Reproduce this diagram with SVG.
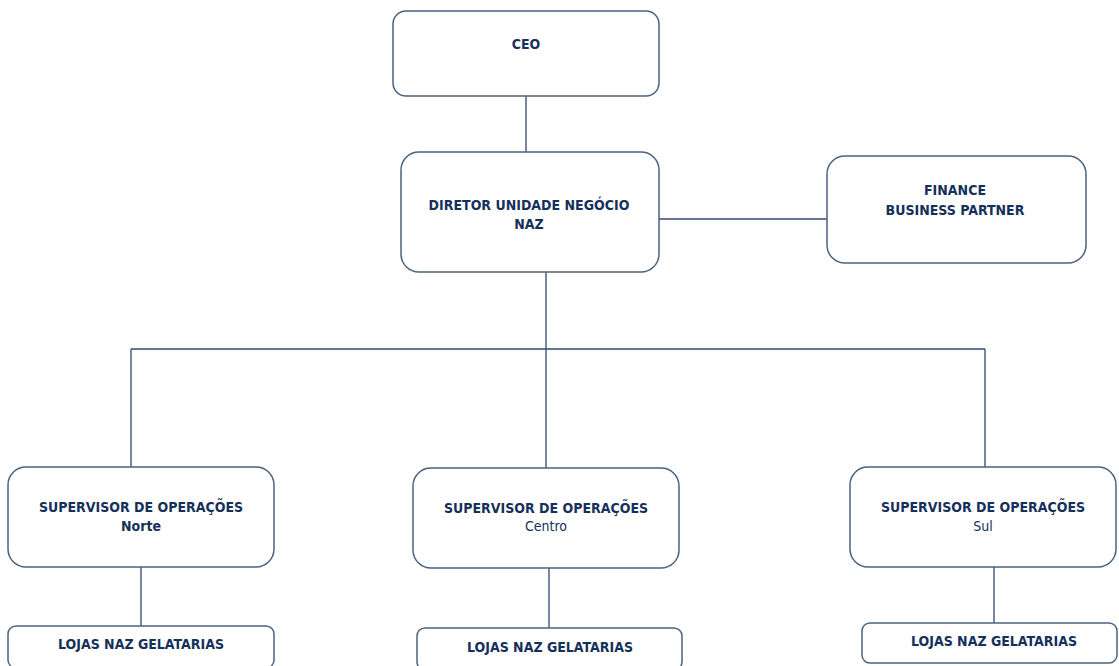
<svg xmlns="http://www.w3.org/2000/svg" width="1119" height="666" viewBox="0 0 1119 666">
<style>
.box{fill:#ffffff;stroke:#4b6280;stroke-width:1.5}
.conn line{stroke:#2e4a70;stroke-width:1.3}
text{font-family:"DejaVu Sans Condensed","DejaVu Sans",sans-serif;font-size:14px;fill:#15305a;text-anchor:middle}
.b{font-weight:bold}
</style>
<rect width="1119" height="666" fill="#ffffff"/>
<g id="connectors" class="conn">
<line x1="526" y1="96" x2="526" y2="152"/>
<line x1="659" y1="219" x2="827" y2="219"/>
<line x1="546" y1="272" x2="546" y2="349"/>
<line x1="131" y1="349" x2="985" y2="349"/>
<line x1="131" y1="349" x2="131" y2="467"/>
<line x1="546" y1="349" x2="546" y2="468"/>
<line x1="985" y1="349" x2="985" y2="467"/>
<line x1="141" y1="567" x2="141" y2="626"/>
<line x1="549" y1="568" x2="549" y2="628"/>
<line x1="994" y1="563" x2="994" y2="623"/>
</g>
<g id="ceo">
<rect class="box" x="393" y="11" width="266" height="85" rx="13"/>
<text class="b" x="526" y="49">CEO</text>
</g>
<g id="diretor">
<rect class="box" x="401" y="152" width="258" height="120" rx="18"/>
<text class="b" x="529" y="210">DIRETOR UNIDADE NEGÓCIO</text>
<text class="b" x="529" y="229">NAZ</text>
</g>
<g id="finance">
<rect class="box" x="827" y="156" width="259" height="107" rx="18"/>
<text class="b" x="955" y="195">FINANCE</text>
<text class="b" x="955" y="215">BUSINESS PARTNER</text>
</g>
<g id="sup-norte">
<rect class="box" x="8" y="467" width="266" height="100" rx="18"/>
<text class="b" x="141" y="512">SUPERVISOR DE OPERAÇÕES</text>
<text class="b" x="141" y="531">Norte</text>
</g>
<g id="sup-centro">
<rect class="box" x="413" y="468" width="266" height="100" rx="18"/>
<text class="b" x="546" y="513">SUPERVISOR DE OPERAÇÕES</text>
<text x="546" y="531">Centro</text>
</g>
<g id="sup-sul">
<rect class="box" x="850" y="467" width="266" height="100" rx="18"/>
<text class="b" x="983" y="512">SUPERVISOR DE OPERAÇÕES</text>
<text x="983" y="531">Sul</text>
</g>
<g id="lojas-norte">
<rect class="box" x="8" y="626" width="266" height="42" rx="8"/>
<text class="b" x="141" y="649">LOJAS NAZ GELATARIAS</text>
</g>
<g id="lojas-centro">
<rect class="box" x="417" y="628" width="265" height="42" rx="8"/>
<text class="b" x="550" y="652">LOJAS NAZ GELATARIAS</text>
</g>
<g id="lojas-sul">
<rect class="box" x="862" y="623" width="255" height="40" rx="8"/>
<text class="b" x="994" y="646">LOJAS NAZ GELATARIAS</text>
</g>
</svg>
